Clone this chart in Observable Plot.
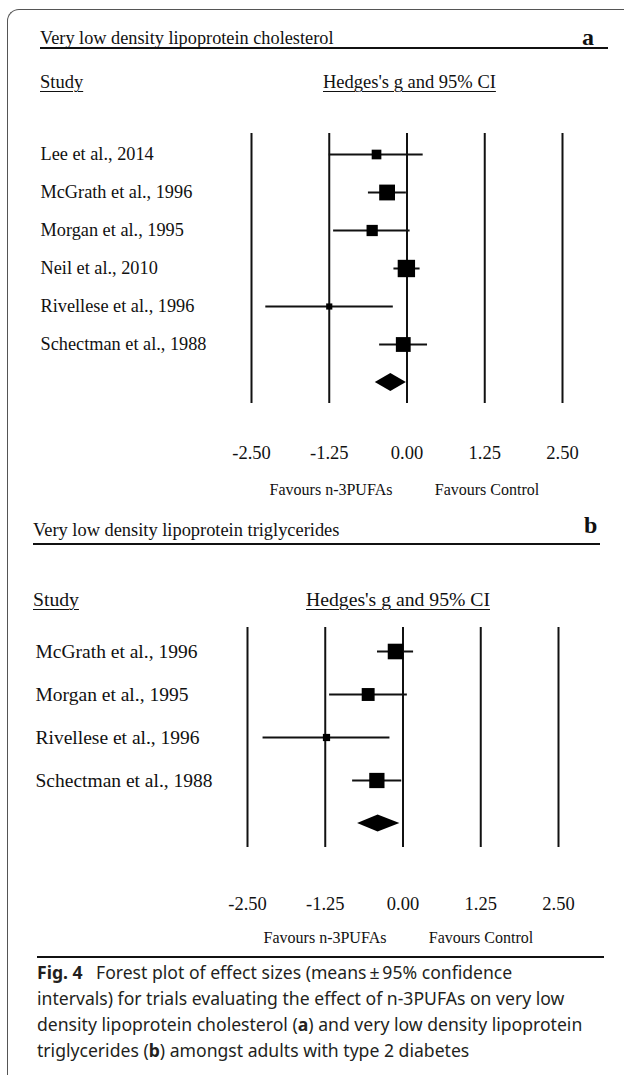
<!DOCTYPE html>
<html>
<head>
<meta charset="utf-8">
<script src="https://cdn.jsdelivr.net/npm/d3@7"></script>
<script src="https://cdn.jsdelivr.net/npm/@observablehq/plot@0.6"></script>
<style>
  html, body { margin: 0; padding: 0; background: #fff; }
  #page { position: relative; width: 624px; height: 1075px; overflow: hidden; font-family: "Liberation Serif", "Times New Roman", serif; color: #111; }
  .abs { position: absolute; white-space: nowrap; line-height: 1; }
  .ctr { transform: translateX(-50%); }
  .rule { position: absolute; background: #111; }
  .u { text-decoration: underline; text-decoration-thickness: 1px; text-underline-offset: 3px; }
  .frame { position: absolute; left: 7px; top: 9px; width: 800px; height: 1200px; border-top: 1px solid #555; border-left: 1px solid #555; border-top-left-radius: 12px; }
  .chart { position: absolute; left: 0; }
  #caption { position: absolute; left: 37px; top: 959px; font-family: "Noto Sans", "Open Sans", sans-serif; font-size: 17.6px; line-height: 26px; color: #231f20; white-space: nowrap; }
</style>
</head>
<body>
<div id="page">
  <div class="frame"></div>

  <!-- Panel a -->
  <div class="abs" style="left:40px; top:29px; font-size:18.3px;">Very low density lipoprotein cholesterol</div>
  <div class="abs" style="left:582px; top:25px; font-size:24px; font-weight:bold;">a</div>
  <div class="rule" style="left:40px; top:47px; width:568px; height:2px;"></div>
  <div class="abs u" style="left:40px; top:73px; font-size:18.5px;">Study</div>
  <div class="abs u" style="left:323px; top:73px; font-size:18.5px;">Hedges's g and 95% CI</div>
  <div id="chartA" class="chart" style="top:120px;"></div>
  <div class="abs ctr" style="left:331px; top:482px; font-size:16px;">Favours n-3PUFAs</div>
  <div class="abs ctr" style="left:487px; top:482px; font-size:16px;">Favours Control</div>

  <!-- Panel b -->
  <div class="abs" style="left:33px; top:521px; font-size:18.4px;">Very low density lipoprotein triglycerides</div>
  <div class="abs" style="left:584px; top:513px; font-size:24px; font-weight:bold;">b</div>
  <div class="rule" style="left:33px; top:543px; width:567px; height:2px;"></div>
  <div class="abs u" style="left:33px; top:590px; font-size:19.7px;">Study</div>
  <div class="abs u" style="left:306px; top:590px; font-size:19.7px;">Hedges's g and 95% CI</div>
  <div id="chartB" class="chart" style="top:615px;"></div>
  <div class="abs ctr" style="left:325px; top:930px; font-size:16px;">Favours n-3PUFAs</div>
  <div class="abs ctr" style="left:481px; top:930px; font-size:16px;">Favours Control</div>

  <div class="rule" style="left:37px; top:956px; width:567px; height:2px;"></div>

  <div id="caption"><b>Fig. 4</b>&ensp; Forest plot of effect sizes (means&#8201;±&#8201;95% confidence<br>intervals) for trials evaluating the effect of n-3PUFAs on very low<br>density lipoprotein cholesterol (<b>a</b>) and very low density lipoprotein<br>triglycerides (<b>b</b>) amongst adults with type 2 diabetes</div>
</div>

<script>
// ---------- Data ----------
const tickValues = [-2.5, -1.25, 0, 1.25, 2.5];

// Panel a: VLDL cholesterol
const studiesA = ["Lee et al., 2014", "McGrath et al., 1996", "Morgan et al., 1995", "Neil et al., 2010", "Rivellese et al., 1996", "Schectman et al., 1988"];
const hedgesA  = [-0.49, -0.32, -0.56, -0.01, -1.25, -0.06];
const lowerA   = [-1.25, -0.62, -1.18, -0.21, -2.27, -0.44];
const upperA   = [ 0.26, -0.01,  0.05,  0.21, -0.22,  0.33];
const weightA  = [9.1, 24.3, 12.3, 29.3, 3.7, 21.3];
const overallA = { lo: -0.51, g: -0.26, hi: -0.01 };

// Panel b: VLDL triglycerides
const studiesB = ["McGrath et al., 1996", "Morgan et al., 1995", "Rivellese et al., 1996", "Schectman et al., 1988"];
const hedgesB  = [-0.12, -0.56, -1.23, -0.42];
const lowerB   = [-0.41, -1.18, -2.25, -0.81];
const upperB   = [ 0.17,  0.07, -0.21, -0.02];
const weightB  = [35.0, 24.0, 7.5, 33.5];
const overallB = { lo: -0.73, g: -0.40, hi: -0.05 };

// ---------- Drawing ----------
function diamondMark(rows, half) {
  return (index, scales) => {
    const g = d3.create("svg:g");
    for (const d of rows) {
      const x1 = scales.x(d.lo), xm = scales.x(d.g), x2 = scales.x(d.hi), y = scales.y(d.study);
      g.append("path")
        .attr("d", `M${x1},${y}L${xm},${y - half}L${x2},${y}L${xm},${y + half}Z`)
        .attr("fill", "#000");
    }
    return g.node();
  };
}

function forest(cfg) {
  const rows = cfg.names.map((s, i) => ({ study: s, g: cfg.g[i], lo: cfg.lo[i], hi: cfg.hi[i], w: cfg.w[i] }));
  const summary = [{ study: "Overall", ...cfg.overall }];
  return Plot.plot({
    width: 624,
    height: cfg.height,
    marginTop: cfg.marginTop,
    marginBottom: cfg.marginBottom,
    marginLeft: cfg.marginLeft,
    marginRight: cfg.marginRight,
    style: { fontFamily: '"Liberation Serif", "Times New Roman", serif', fontSize: cfg.tickFont + "px", color: "#111", background: "transparent", overflow: "visible" },
    x: { domain: [-2.5, 2.5], ticks: tickValues, tickFormat: d => d.toFixed(2), tickSize: 0, tickPadding: cfg.tickPadding, label: null },
    y: { type: "point", domain: [...cfg.names, "Overall"], padding: cfg.padding, axis: null },
    r: { range: [0, cfg.rMax] },
    marks: [
      Plot.ruleX(tickValues, { stroke: "#111", strokeWidth: 2 }),
      Plot.ruleY(rows, { y: "study", x1: "lo", x2: "hi", stroke: "#111", strokeWidth: 2 }),
      Plot.dot(rows, { x: "g", y: "study", r: "w", symbol: "square", fill: "#000", stroke: "none" }),
      diamondMark(summary, cfg.half),
      Plot.text(rows, { y: "study", text: "study", frameAnchor: "left", textAnchor: "start", dx: cfg.nameDx, fontSize: cfg.nameFont, fill: "#111" })
    ]
  });
}

document.getElementById("chartA").append(forest({
  names: studiesA, g: hedgesA, lo: lowerA, hi: upperA, w: weightA, overall: overallA,
  height: 350, marginTop: 13, marginBottom: 67, marginLeft: 251, marginRight: 62,
  padding: 0.47, tickPadding: 42, tickFont: 18.5, nameFont: 18.3, nameDx: -211, rMax: 9.8, half: 9
}));

document.getElementById("chartB").append(forest({
  names: studiesB, g: hedgesB, lo: lowerB, hi: upperB, w: weightB, overall: overallB,
  height: 305, marginTop: 12, marginBottom: 73, marginLeft: 247, marginRight: 66,
  padding: 0.51, tickPadding: 49, tickFont: 18.5, nameFont: 19.5, nameDx: -212, rMax: 8.8, half: 8.5
}));
</script>
</body>
</html>
